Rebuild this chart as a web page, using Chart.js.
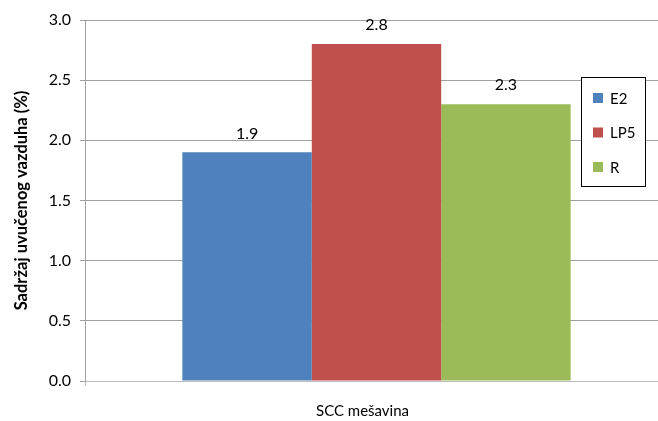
<!DOCTYPE html>
<html>
<head>
<meta charset="utf-8">
<script src="https://cdn.jsdelivr.net/npm/chart.js@4"></script>
<style>
html,body{margin:0;padding:0;background:#fff;overflow:hidden;}
#wrap{position:relative;width:658px;height:421px;overflow:hidden;}
</style>
</head>
<body>
<div id="wrap"><canvas id="c" width="668" height="421"></canvas></div>
<script>
const categories = ["SCC mešavina"];
const seriesNames = ["E2", "LP5", "R"];
const seriesColors = ["#4F81BD", "#C0504D", "#9BBB59"];
const E2 = [1.9];
const LP5 = [2.8];
const R = [2.3];
const seriesValues = [E2, LP5, R];
const yTicks = [0, 0.5, 1.0, 1.5, 2.0, 2.5, 3.0];
const yTitle = "Sadržaj uvučenog vazduha (%)";

const FONT = "Lato, 'Open Sans', sans-serif";

const valueLabels = {
  id: 'valueLabels',
  afterDatasetsDraw(chart) {
    const ctx = chart.ctx;
    ctx.save();
    ctx.font = "16px " + FONT;
    ctx.fillStyle = "#000";
    ctx.textAlign = "center";
    ctx.textBaseline = "bottom";
    chart.data.datasets.forEach((ds, i) => {
      const meta = chart.getDatasetMeta(i);
      meta.data.forEach((bar, j) => {
        ctx.fillText(ds.data[j].toFixed(1), bar.x, bar.y - 11);
      });
    });
    ctx.restore();
  }
};

const boxLegend = {
  id: 'boxLegend',
  afterDraw(chart) {
    const ctx = chart.ctx;
    ctx.save();
    const x0 = 581.5, y0 = 77.5, w = 64, h = 109;
    ctx.fillStyle = "#fff";
    ctx.fillRect(x0, y0, w, h);
    ctx.strokeStyle = "#000";
    ctx.lineWidth = 1;
    ctx.strokeRect(x0, y0, w, h);
    ctx.font = "15px " + FONT;
    ctx.textBaseline = "middle";
    ctx.textAlign = "left";
    chart.data.datasets.forEach((ds, i) => {
      const cy = 98 + i * 34.5;
      ctx.fillStyle = ds.backgroundColor;
      ctx.fillRect(593, cy - 5, 10, 10);
      ctx.fillStyle = "#000";
      ctx.fillText(ds.label, 610, cy + 1);
    });
    ctx.restore();
  }
};

new Chart(document.getElementById('c'), {
  type: 'bar',
  data: {
    labels: categories,
    datasets: seriesNames.map((n, i) => ({
      label: n,
      data: seriesValues[i],
      backgroundColor: seriesColors[i],
      borderWidth: 0,
      categoryPercentage: 0.666,
      barPercentage: 1.0
    }))
  },
  options: {
    responsive: false,
    animation: false,
    devicePixelRatio: 1,
    layout: { padding: { top: 20, right: 0, left: 0, bottom: 0 } },
    plugins: {
      legend: { display: false },
      tooltip: { enabled: false }
    },
    scales: {
      x: {
        offset: true,
        grid: { display: true, drawOnChartArea: false, tickLength: 5, color: "#bfbfbf", offset: true },
        border: { color: "#bfbfbf", width: 1 },
        ticks: { color: "#000", font: { family: FONT, size: 15 }, padding: 16, labelOffset: -14 },
        afterFit(s) { s.height = 40; }
      },
      y: {
        min: 0, max: 3,
        afterBuildTicks(s) { s.ticks = yTicks.map(v => ({ value: v })); },
        grid: { color: "#a0a0a0", tickLength: 5 },
        border: { color: "#a0a0a0", width: 1 },
        ticks: {
          color: "#000",
          font: { family: FONT, size: 16 },
          padding: 9,
          callback: v => Number(v).toFixed(1)
        },
        title: {
          display: true,
          text: yTitle,
          color: "#000",
          font: { family: FONT, size: 16.5, weight: 'bold' },
          padding: { top: 12, bottom: 0 }
        },
        afterFit(s) { s.width = 85; }
      }
    }
  },
  plugins: [valueLabels, boxLegend]
});
</script>
</body>
</html>
